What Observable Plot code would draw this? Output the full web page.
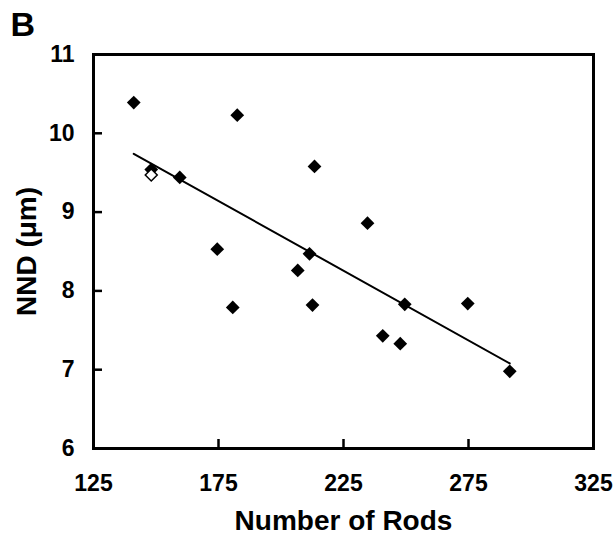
<!DOCTYPE html>
<html>
<head>
<meta charset="utf-8">
<script src="https://cdn.jsdelivr.net/npm/d3@7"></script>
<script src="https://cdn.jsdelivr.net/npm/@observablehq/plot@0.6"></script>
<style>
  html, body { margin: 0; padding: 0; background: #fff; }
  #chart { width: 614px; height: 536px; }
</style>
</head>
<body>
<div id="chart"></div>
<script>
// Filled diamonds: number of rods vs nearest-neighbour distance
const rods = [141.1, 182.5, 213.4, 148.1, 159.5, 174.5, 211.4, 206.7, 180.7, 212.6, 234.6, 249.5, 274.7, 240.7, 247.7, 291.5];
const nnd  = [10.39, 10.23, 9.58, 9.54, 9.44, 8.53, 8.47, 8.26, 7.79, 7.82, 8.86, 7.83, 7.84, 7.43, 7.33, 6.98];
// Open diamond
const openRods = [148.1];
const openNnd  = [9.47];
// Regression line end points
const fitRods = [141.1, 291.5];
const fitNnd  = [9.74, 7.08];
// Ticks
const xTicks = [125, 175, 225, 275, 325];
const yTicks = [6, 7, 8, 9, 10, 11];
const xInnerTicks = [175, 225, 275];
const yInnerTicks = [7, 8, 9, 10];

const font = "'Liberation Sans', Arial, Helvetica, sans-serif";
const pts = rods.map((r, i) => ({r, n: nnd[i]}));
const openPts = openRods.map((r, i) => ({r, n: openNnd[i]}));
const fit = fitRods.map((r, i) => ({r, n: fitNnd[i]}));

const chart = Plot.plot({
  width: 614,
  height: 536,
  marginLeft: 93,
  marginRight: 21,
  marginTop: 54,
  marginBottom: 88,
  style: {fontFamily: font, background: "#fff", color: "#000"},
  x: {domain: [125, 325], axis: null},
  y: {domain: [6, 11], axis: null},
  marks: [
    Plot.axisX({ticks: xTicks, tickSize: 0, tickPadding: 26, fontSize: 23, fontWeight: "bold", fontFamily: font, label: null, tickFormat: d => String(d)}),
    Plot.axisY({ticks: yTicks, tickSize: 0, tickPadding: 19, fontSize: 23, fontWeight: "bold", fontFamily: font, label: null, tickFormat: d => String(d)}),
    Plot.tickX(xInnerTicks, {x: d => d, insetTop: 385, stroke: "#000", strokeWidth: 2.5}),
    Plot.tickY(yInnerTicks, {y: d => d, insetRight: 491, stroke: "#000", strokeWidth: 2.5}),
    Plot.frame({stroke: "#000", strokeWidth: 3}),
    Plot.line(fit, {x: "r", y: "n", stroke: "#000", strokeWidth: 2}),
    Plot.dot(pts, {x: "r", y: "n", symbol: "diamond2", r: 6.2, fill: "#000", stroke: "none"}),
    Plot.dot(openPts, {x: "r", y: "n", symbol: "diamond2", r: 5.4, fill: "#fff", stroke: "#000", strokeWidth: 1.5}),
    Plot.text(["Number of Rods"], {text: d => d, frameAnchor: "bottom", dy: 81, lineAnchor: "bottom", textAnchor: "middle", fontSize: 28, fontWeight: "bold", fontFamily: font, fill: "#000"}),
    Plot.text(["NND (μm)"], {text: d => d, frameAnchor: "left", dx: -58, rotate: -90, lineAnchor: "bottom", textAnchor: "middle", fontSize: 28, fontWeight: "bold", fontFamily: font, fill: "#000"}),
    Plot.text(["B"], {text: d => d, frameAnchor: "top-left", dx: -83, dy: -19, lineAnchor: "bottom", textAnchor: "start", fontSize: 34, fontWeight: "bold", fontFamily: font, fill: "#000"})
  ]
});
document.getElementById("chart").appendChild(chart);
</script>
</body>
</html>
